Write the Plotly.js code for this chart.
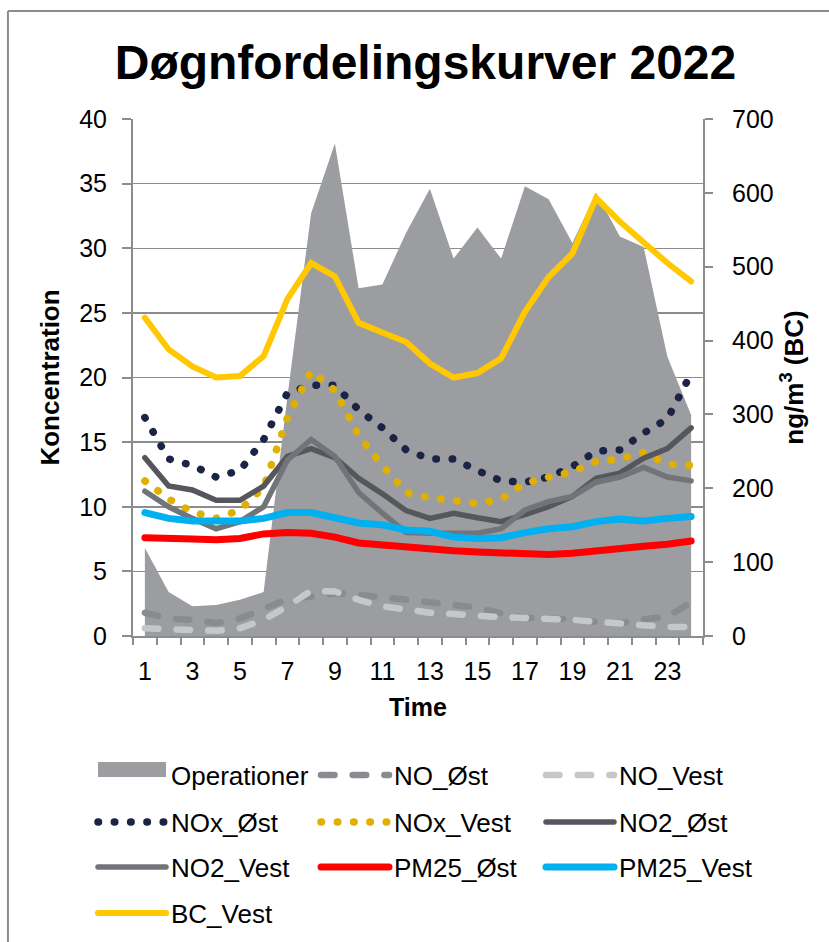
<!DOCTYPE html>
<html>
<head>
<meta charset="utf-8">
<script src="https://cdn.plot.ly/plotly-3.0.1.min.js"></script>
<style>
  html, body { margin: 0; padding: 0; background: #ffffff; }
  #chart { width: 829px; height: 942px; }
  /* rounded ends for dashed / dotted series */
  .js-line { stroke-linecap: round; }
  /* taller swatch for the filled area in the legend */
  .legendfill path { transform: translateY(-8px) scaleY(2.5); }
</style>
</head>
<body>
<div id="chart"></div>
<script>
// Hour of the day
const hours = [1,2,3,4,5,6,7,8,9,10,11,12,13,14,15,16,17,18,19,20,21,22,23,24];
const hourTicks = [1,3,5,7,9,11,13,15,17,19,21,23];

// Concentrations (left axis)
const operationer = [6.8,3.4,2.3,2.4,2.8,3.4,18.5,32.7,38.1,26.9,27.2,31.2,34.6,29.2,31.6,29.2,34.8,33.8,30.4,34.3,30.9,30.1,21.6,17.1];
const noOst   = [1.8,1.35,1.25,1.0,1.35,2.15,2.85,3.05,3.3,3.2,3.0,2.85,2.65,2.5,2.2,1.75,1.4,1.35,1.3,1.1,1.0,1.3,1.5,2.6];
const noVest  = [0.6,0.5,0.45,0.4,0.6,1.25,2.3,3.5,3.45,2.8,2.3,2.0,1.8,1.7,1.55,1.45,1.4,1.35,1.25,1.1,0.95,0.8,0.7,0.7];
const noxOst  = [16.9,13.7,13.2,12.3,12.8,15.2,18.8,19.4,19.4,17.5,16.1,14.4,13.7,13.7,12.8,12.0,11.9,12.3,13.1,14.3,14.4,15.7,16.8,20.3];
const noxVest = [12.0,10.6,9.6,9.1,9.75,11.5,16.9,20.5,19.0,15.5,13.2,11.1,10.7,10.5,10.25,10.6,11.8,12.3,12.7,13.5,13.7,14.2,13.3,13.2];
const no2Ost  = [13.8,11.6,11.3,10.5,10.5,11.6,13.9,14.5,13.8,12.2,11.0,9.7,9.1,9.5,9.15,8.85,9.4,10.0,10.8,12.2,12.6,13.75,14.5,16.1];
const no2Vest = [11.2,10.0,9.1,8.3,8.85,10.0,13.6,15.2,13.9,11.1,9.5,8.0,7.95,7.9,7.95,8.3,9.75,10.4,10.8,11.9,12.3,13.05,12.3,12.0];
const pm25Ost = [7.6,7.6,7.5,7.45,7.55,7.9,8.0,7.95,7.65,7.2,7.05,6.85,6.65,6.6,6.5,6.4,6.4,6.3,6.4,6.6,6.85,6.95,7.1,7.35];
const pm25Vest= [9.55,9.1,8.9,8.9,8.9,9.1,9.55,9.55,9.1,8.75,8.6,8.2,8.1,7.65,7.55,7.6,8.0,8.3,8.45,8.85,9.05,8.9,9.1,9.25];

// Black carbon (right axis, ng/m3)
const bcVest = [431,388,365,350,352,379,456,505,487,424,411,398,369,350,356,376,439,486,518,593,561,532,505,480];

const FONT = 'Liberation Sans, Arial, Helvetica, sans-serif';
const AXIS = '#8c8c8c';
const W = 829, H = 942;

// legend grid: three columns, four rows below the plot
const legendCols = [93, 316, 541];
const legendRows = [775, 822, 867, 913];
const legendIds = ['legend','legend2','legend3','legend4','legend5','legend6','legend7','legend8','legend9','legend10'];

function line(name, y, color, width, dash, idx, yaxis) {
  return {
    type: 'scatter', mode: 'lines', name: name,
    x: hours, y: y, yaxis: yaxis || 'y', legend: legendIds[idx],
    line: { color: color, width: width, dash: dash || 'solid', shape: 'linear' },
    hoverinfo: 'skip'
  };
}

const traces = [
  {
    type: 'scatter', mode: 'lines', name: 'Operationer',
    x: hours, y: operationer, fill: 'tozeroy',
    fillcolor: '#9c9da1', line: { color: '#9c9da1', width: 0 },
    legend: legendIds[0], hoverinfo: 'skip'
  },
  line('NO_Øst',   noOst,   '#898b8f', 6.5, '13.5px,18.2px', 1),
  line('NO_Vest',  noVest,  '#c5c8cb', 6.5, '13.5px,18.2px', 2),
  line('NOx_Øst',  noxOst,  '#1b2346', 7.5, '0.5px,15.8px', 3),
  line('NOx_Vest', noxVest, '#dfb000', 7.5, '0.5px,15.8px', 4),
  line('NO2_Øst',  no2Ost,  '#55575d', 5.5, 'solid', 5),
  line('NO2_Vest', no2Vest, '#71757a', 5.5, 'solid', 6),
  line('PM25_Øst', pm25Ost, '#ff0000', 7, 'solid', 7),
  line('PM25_Vest',pm25Vest,'#00b0f0', 7, 'solid', 8),
  line('BC_Vest',  bcVest,  '#ffc800', 6, 'solid', 9, 'y2')
];

function legendBox(i) {
  const col = i % 3, row = Math.floor(i / 3);
  return {
    orientation: 'h', xref: 'container', yref: 'container',
    x: legendCols[col] / W, xanchor: 'left',
    y: 1 - legendRows[row] / H, yanchor: 'middle',
    itemwidth: 68, traceorder: 'normal',
    font: { family: FONT, size: 26, color: '#000000' },
    bgcolor: 'rgba(0,0,0,0)', borderwidth: 0
  };
}

const PL = 133, PR = 702.7, PT = 119, PB = 636;
const pw = PR - PL, ph = PB - PT;

const layout = {
  width: W, height: H,
  margin: { l: PL, r: W - PR, t: PT, b: H - PB, pad: 0 },
  paper_bgcolor: '#ffffff', plot_bgcolor: '#ffffff',
  font: { family: FONT, size: 25, color: '#000000' },
  title: {
    text: '<b>Døgnfordelingskurver 2022</b>',
    font: { family: FONT, size: 48, color: '#000000' },
    xref: 'container', yref: 'container',
    x: 425.5 / W, xanchor: 'center', y: 1 - 62 / H, yanchor: 'middle'
  },
  xaxis: {
    range: [0.5, 24.5], tickmode: 'array', tickvals: hourTicks,
    ticks: '', showgrid: false, zeroline: false,
    showline: true, linecolor: AXIS, linewidth: 2,
    ticklabelstandoff: 12,
    tickfont: { family: FONT, size: 25, color: '#000000' },
    minor: { tick0: 0.5, dtick: 1, ticks: 'outside', ticklen: 7, tickwidth: 2, tickcolor: AXIS, showgrid: false },
    title: { text: '<b>Time</b>', font: { family: FONT, size: 25, color: '#000000' }, standoff: 14 }
  },
  yaxis: {
    range: [0, 40], dtick: 5, tick0: 0,
    showgrid: true, gridcolor: AXIS, gridwidth: 1.5, zeroline: false,
    showline: true, linecolor: AXIS, linewidth: 2,
    ticks: 'outside', ticklen: 9, tickwidth: 2, tickcolor: AXIS,
    ticklabelstandoff: 10,
    tickfont: { family: FONT, size: 25, color: '#000000' },
    title: { text: '<b>Koncentration</b>', font: { family: FONT, size: 26, color: '#000000' }, standoff: 12 }
  },
  yaxis2: {
    overlaying: 'y', side: 'right',
    range: [0, 700], dtick: 100, tick0: 0,
    showgrid: false, zeroline: false,
    showline: true, linecolor: AXIS, linewidth: 2,
    ticks: 'outside', ticklen: 8, tickwidth: 2, tickcolor: AXIS,
    ticklabelstandoff: 14,
    tickfont: { family: FONT, size: 25, color: '#000000' },
    title: { text: '<b>ng/m<sup>3</sup> (BC)</b>', font: { family: FONT, size: 26, color: '#000000' }, standoff: 12 }
  },
  shapes: [
    // chart frame (left and top edges)
    { type: 'line', xref: 'paper', yref: 'paper',
      x0: (8 - PL) / pw, x1: (8 - PL) / pw, y0: (PB - 11) / ph, y1: (PB - 960) / ph,
      line: { color: AXIS, width: 2 } },
    { type: 'line', xref: 'paper', yref: 'paper',
      x0: (8 - PL) / pw, x1: (840 - PL) / pw, y0: (PB - 11) / ph, y1: (PB - 11) / ph,
      line: { color: AXIS, width: 2 } }
  ],
  showlegend: true
};
legendIds.forEach(function (id, i) { layout[id] = legendBox(i); });

Plotly.newPlot('chart', traces, layout, { staticPlot: true, displayModeBar: false });
</script>
</body>
</html>
